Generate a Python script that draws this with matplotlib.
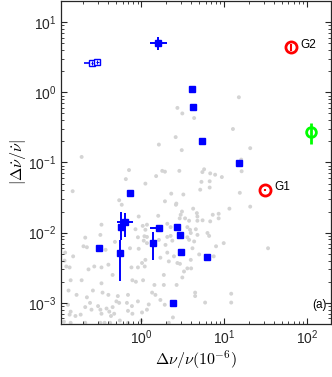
import numpy as np
import matplotlib
matplotlib.use("Agg")
import matplotlib.pyplot as plt
from matplotlib.ticker import LogLocator, NullFormatter, FuncFormatter

plt.rcParams['font.family'] = ['Liberation Sans', 'DejaVu Sans']
plt.rcParams['mathtext.fontset'] = 'cm'

# background population (grey dots)
grey_x = [0.19, 1.63, 0.71, 0.65, 1.12, 1.51, 1.79, 1.93, 15.1, 2.73, 3.13, 4.35, 12.8, 2.60, 3.08,
          20.7, 16.1, 16.3, 2.88, 5.74, 5.47, 6.8, 7.8, 9.4, 5.33, 6.7, 6.7, 0.148, 0.54, 0.58,
          0.93, 1.04, 0.33, 0.85, 0.32, 0.21, 15.5, 2.30, 1.93, 2.65, 3.10, 2.99, 4.23, 11.6, 1.60,
          2.91, 4.69, 4.76, 5.5, 4.76, 3.78, 7.3, 8.6, 8.6, 6.8, 1.17, 1.12, 2.06, 2.26, 3.60,
          3.88, 4.56, 3.96, 6.3, 6.6, 2.26, 2.06, 3.60, 1.17, 20.7, 34.0, 12.2, 2.62, 3.22, 5.15,
          3.38, 9.9, 12.2, 5.9,
          0.48, 0.91, 1.07, 0.20, 0.22, 0.12, 0.15, 0.37, 0.73, 0.93, 0.118, 0.124, 0.136, 0.23, 0.27,
          0.33, 0.40, 0.76, 0.91, 1.10, 0.45, 0.14, 0.19, 0.33, 0.78, 0.86, 0.132, 0.165, 0.26, 0.34,
          0.40, 0.52, 0.69, 0.50, 0.54, 0.67, 0.91, 0.77, 0.22, 0.24, 0.21, 0.25, 0.30, 0.32, 0.33,
          0.38, 0.41, 0.45, 0.47, 0.43, 0.13, 0.14, 0.136, 0.16, 0.185, 0.116, 0.14, 0.21, 0.32, 0.36,
          0.42, 0.55, 0.69, 0.78, 1.0, 0.69,
          1.09, 1.17, 1.63, 1.96, 2.37, 2.06, 2.48, 1.12, 1.02, 1.70, 2.15, 2.73, 2.93, 3.28, 3.6,
          4.0, 3.96, 4.15, 5.0, 7.5, 8.0, 3.78, 4.35, 4.77, 1.87, 3.13, 1.05, 1.44, 1.87, 2.67,
          1.35, 1.48, 1.70, 1.92, 1.23, 1.17, 1.02, 4.47, 4.47, 2.41, 2.15]
grey_y = [0.12, 0.18, 0.078, 0.058, 0.050, 0.064, 0.076, 0.074, 0.85, 0.60, 0.50, 0.43, 0.30, 0.23, 0.15,
          0.16, 0.11, 0.075, 0.076, 0.080, 0.073, 0.070, 0.067, 0.062, 0.053, 0.054, 0.044, 0.039, 0.029, 0.025,
          0.017, 0.0125, 0.013, 0.0112, 0.0093, 0.0085, 0.037, 0.036, 0.028, 0.026, 0.020, 0.018, 0.022, 0.022, 0.0174,
          0.016, 0.019, 0.017, 0.015, 0.0148, 0.0148, 0.018, 0.0186, 0.016, 0.0145, 0.013, 0.011, 0.0134, 0.012, 0.012,
          0.011, 0.0112, 0.0099, 0.0099, 0.009, 0.009, 0.0087, 0.0086, 0.0087, 0.0235, 0.0060, 0.00101, 0.025, 0.035, 0.041,
          0.016, 0.0071, 0.00135, 0.00101,
          0.0074, 0.0086, 0.0077, 0.0064, 0.0062, 0.0052, 0.0046, 0.0057, 0.0060, 0.0059, 0.0040, 0.0033, 0.0032, 0.0030, 0.0033,
          0.0032, 0.0035, 0.0032, 0.0032, 0.0033, 0.0025, 0.0021, 0.0021, 0.0019, 0.0021, 0.0020, 0.0015, 0.0013, 0.0015, 0.0014,
          0.0013, 0.00125, 0.0013, 0.00105, 0.0010, 0.0010, 0.00105, 0.0009, 0.0012, 0.0010, 0.00087, 0.0008, 0.0009, 0.0008, 0.0007,
          0.00083, 0.00075, 0.00087, 0.0007, 0.00065, 0.00094, 0.00075, 0.00068, 0.00065, 0.00068, 0.00054, 0.00052, 0.00052, 0.00052, 0.00052,
          0.00052, 0.00056, 0.00052, 0.0007, 0.00056, 0.00077,
          0.0089, 0.0071, 0.0079, 0.0067, 0.0077, 0.0052, 0.0046, 0.0041, 0.0037, 0.0044, 0.0039, 0.0037, 0.0036, 0.0028, 0.0031,
          0.0031, 0.0041, 0.0060, 0.0049, 0.0046, 0.0064, 0.0079, 0.0075, 0.0093, 0.0025, 0.0023, 0.0021, 0.0018, 0.0018, 0.0018,
          0.0014, 0.0013, 0.0011, 0.00094, 0.00095, 0.0008, 0.00073, 0.0014, 0.00125, 0.00062, 0.00052]

# filled blue squares
blue_x = [1.61, 4.13, 4.19, 5.39, 15.0, 0.728, 0.310, 0.550, 0.565, 0.638, 1.39, 1.63, 2.67, 2.93, 3.02, 6.21, 2.44]
blue_y = [5.03, 1.11, 0.618, 0.203, 0.0977, 0.0366, 0.00604, 0.00513, 0.01225, 0.01416, 0.00711, 0.0116,
          0.0121, 0.00912, 0.0053, 0.0045, 0.000997]
blue_xlo = [1.29, 4.13, 4.19, 5.39, 15.0, 0.728, 0.310, 0.550, 0.565, 0.505, 1.39, 1.29, 2.67, 2.93, 3.02, 6.21, 2.44]
blue_xhi = [2.02, 4.13, 4.19, 5.39, 15.0, 0.728, 0.310, 0.550, 0.565, 0.792, 1.39, 1.85, 2.67, 2.93, 3.02, 6.21, 2.44]
blue_ylo = [4.0, 1.11, 0.618, 0.203, 0.0977, 0.0366, 0.00604, 0.00202, 0.0079, 0.00875, 0.00412, 0.0116,
            0.0121, 0.00912, 0.0053, 0.0045, 0.000997]
blue_yhi = [6.12, 1.11, 0.618, 0.203, 0.0977, 0.0366, 0.00604, 0.0079, 0.020, 0.0192, 0.0101, 0.0116,
            0.0121, 0.00912, 0.0053, 0.0045, 0.000997]

# open blue squares
open_x = [0.253, 0.295]
open_y = [2.65, 2.74]
open_xlo = [0.202, 0.280]
open_xhi = [0.316, 0.310]

# glitches G1, G2 (red) and green point
g_x = [31.0, 64.4]
g_y = [0.0408, 4.37]
g_ylo = [0.039, 3.9]
g_yhi = [0.0425, 4.9]
g_labels = ['G1', 'G2']
green_x = [112.8]
green_y = [0.275]
green_ylo = [0.182]
green_yhi = [0.37]

fig = plt.figure(figsize=(3.32, 3.77), dpi=100)
ax = fig.add_axes([61/332, 1 - 324/377, 270/332, 323/377])
ax.set_xscale('log')
ax.set_yscale('log')

ax.scatter(grey_x, grey_y, s=8, color='#d4d4d4', edgecolors='none', zorder=1)

bx = np.array(blue_x); by = np.array(blue_y)
xerr = [bx - np.array(blue_xlo), np.array(blue_xhi) - bx]
yerr = [by - np.array(blue_ylo), np.array(blue_yhi) - by]
ax.errorbar(bx, by, xerr=xerr, yerr=yerr, fmt='s', color='#0000ff', ms=5, mfc='#0000ff', mec='#0000ff',
            elinewidth=1.4, capsize=0, zorder=3)

ox = np.array(open_x); oy = np.array(open_y)
ax.errorbar(ox, oy, xerr=[ox - np.array(open_xlo), np.array(open_xhi) - ox], fmt='s', color='#0000ff',
            ms=5, mfc='white', mec='#0000ff', mew=1.0, elinewidth=1.2, capsize=0, zorder=3)
ax.errorbar(ox, oy, xerr=[ox*0.03, ox*0.03], yerr=[oy*0.07, oy*0.07], fmt='none', ecolor='#0000ff',
            elinewidth=0.8, capsize=0, zorder=4)

gx = np.array(g_x); gy = np.array(g_y)
ax.errorbar(gx, gy, yerr=[gy - np.array(g_ylo), np.array(g_yhi) - gy], fmt='o', color='red', ms=8,
            mfc='none', mec='red', mew=2.0, elinewidth=1.5, capsize=0, zorder=4)
for x, y, lab in zip(g_x, g_y, g_labels):
    ax.annotate(lab, (x, y), xytext=(7, 2), textcoords='offset points', fontsize=8.5, color='black',
                va='center', ha='left')

grx = np.array(green_x); gry = np.array(green_y)
ax.errorbar(grx, gry, yerr=[gry - np.array(green_ylo), np.array(green_yhi) - gry], fmt='o', color='#00ff00',
            ms=7, mfc='none', mec='#00ff00', mew=2.0, elinewidth=2.0, capsize=0, zorder=4)

ax.set_xlim(0.107, 196)
ax.set_ylim(5e-4, 20)

fmt = FuncFormatter(lambda v, p: r'$\mathregular{10^{%d}}$' % int(round(np.log10(v))))
ax.xaxis.set_major_locator(LogLocator(base=10, numticks=10))
ax.xaxis.set_minor_locator(LogLocator(base=10, subs=np.arange(2, 10), numticks=20))
ax.yaxis.set_major_locator(LogLocator(base=10, numticks=10))
ax.yaxis.set_minor_locator(LogLocator(base=10, subs=np.arange(2, 10), numticks=20))
ax.xaxis.set_major_formatter(fmt)
ax.yaxis.set_major_formatter(fmt)
ax.xaxis.set_minor_formatter(NullFormatter())
ax.yaxis.set_minor_formatter(NullFormatter())

ax.tick_params(which='both', direction='in', top=True, right=True, labelsize=10, colors='#262626')
ax.tick_params(which='major', length=4, width=0.8)
ax.tick_params(which='minor', length=2, width=0.6)
for sp in ax.spines.values():
    sp.set_linewidth(0.9)
    sp.set_color('#262626')

ax.set_xlabel(r'$\Delta\nu/\nu(10^{-6})$', fontsize=11.5, labelpad=1)
ax.set_ylabel(r'$|\Delta\dot{\nu}/\dot{\nu}|$', fontsize=11.5, labelpad=0)
ax.text(0.985, 0.06, '(a)', transform=ax.transAxes, ha='right', va='center', fontsize=8.5)

fig.savefig('out.png', dpi=100)
